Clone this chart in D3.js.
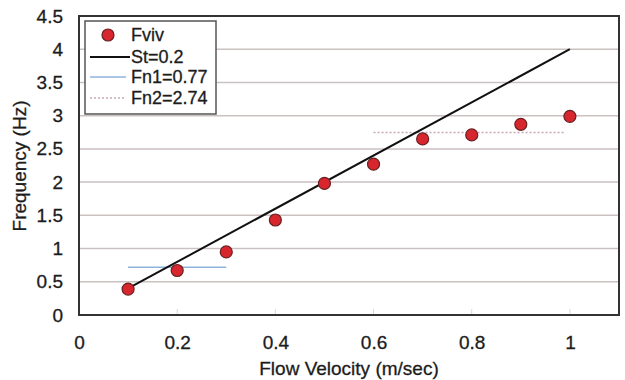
<!DOCTYPE html>
<html>
<head>
<meta charset="utf-8">
<script src="https://cdn.jsdelivr.net/npm/d3@7"></script>
<style>
  body { margin: 0; background: #fff; }
  text { font-family: "Liberation Sans", Arial, sans-serif; fill: #1c1c1c; stroke: #1c1c1c; stroke-width: 0.3px; }
</style>
</head>
<body>
<div id="chart"></div>
<script>
// data
const VELOCITY = [0.1, 0.2, 0.3, 0.4, 0.5, 0.6, 0.7, 0.8, 0.9, 1.0];
const FVIV = [0.39, 0.67, 0.95, 1.43, 1.98, 2.27, 2.65, 2.71, 2.87, 2.99];
const ST_LINE = [[0.1, 0.4], [1.0, 4.0]];
const FN1_LINE = [[0.1, 0.72], [0.3, 0.72]];
const FN2_LINE = [[0.6, 2.745], [0.99, 2.745]];
const X_TICKS = [0, 0.2, 0.4, 0.6, 0.8, 1];
const Y_TICKS = [0, 0.5, 1, 1.5, 2, 2.5, 3, 3.5, 4, 4.5];
const LEGEND = ["Fviv", "St=0.2", "Fn1=0.77", "Fn2=2.74"];

const W = 625, H = 380;
const PLOT_L = 79, PLOT_R = 619, PLOT_T = 16, PLOT_B = 315;
const FONT = "Liberation Sans, Arial, sans-serif";

const svg = d3.select("#chart").append("svg")
  .attr("width", W).attr("height", H);

const x = d3.scaleLinear().domain([0, 1.1]).range([PLOT_L, PLOT_R]);
const y = d3.scaleLinear().domain([0, 4.5]).range([PLOT_B, PLOT_T]);

// gridlines
svg.append("g")
  .selectAll("line")
  .data(Y_TICKS.slice(1))
  .join("line")
  .attr("x1", PLOT_L).attr("x2", PLOT_R)
  .attr("y1", d => y(d)).attr("y2", d => y(d))
  .attr("stroke", "#cbc1c1")
  .attr("stroke-width", 1.5);

// faint x ticks inside
svg.append("g")
  .selectAll("line")
  .data(X_TICKS.slice(1))
  .join("line")
  .attr("x1", d => x(d)).attr("x2", d => x(d))
  .attr("y1", PLOT_B).attr("y2", PLOT_B - 6)
  .attr("stroke", "#d8d8d8");

// y axis labels
const yAxis = svg.append("g")
  .attr("transform", `translate(${PLOT_L},0)`)
  .call(d3.axisLeft(y).tickValues(Y_TICKS).tickSize(0).tickPadding(16).tickFormat(d3.format("")));
yAxis.select(".domain").remove();
yAxis.selectAll("text").attr("font-size", 19).style("font-family", FONT).attr("fill", "#1c1c1c");

// x axis labels
const xAxis = svg.append("g")
  .attr("transform", `translate(0,${PLOT_B})`)
  .call(d3.axisBottom(x).tickValues(X_TICKS).tickSize(0).tickPadding(21).tickFormat(d3.format("")));
xAxis.select(".domain").remove();
xAxis.selectAll("text").attr("font-size", 19).style("font-family", FONT).attr("fill", "#1c1c1c");

// frame
svg.append("rect")
  .attr("x", PLOT_L).attr("y", PLOT_T)
  .attr("width", PLOT_R - PLOT_L).attr("height", PLOT_B - PLOT_T)
  .attr("fill", "none")
  .attr("stroke", "#333")
  .attr("stroke-width", 2);

const line = d3.line().x(d => x(d[0])).y(d => y(d[1]));

svg.append("path").datum(FN1_LINE).attr("d", line)
  .attr("fill", "none").attr("stroke", "#8fb4dc").attr("stroke-width", 1.5);
svg.append("path").datum(FN2_LINE).attr("d", line)
  .attr("fill", "none").attr("stroke", "#c8a8b8").attr("stroke-width", 1.5)
  .attr("stroke-dasharray", "2,2");
svg.append("path").datum(ST_LINE).attr("d", line)
  .attr("fill", "none").attr("stroke", "#111").attr("stroke-width", 2);

// points
svg.append("g")
  .selectAll("circle")
  .data(VELOCITY.map((v, i) => [v, FVIV[i]]))
  .join("circle")
  .attr("cx", d => x(d[0])).attr("cy", d => y(d[1]))
  .attr("r", 6)
  .attr("fill", "#d8262e")
  .attr("stroke", "#6a2020")
  .attr("stroke-width", 1.2);

// legend
const lg = svg.append("g");
lg.append("rect")
  .attr("x", 85).attr("y", 21).attr("width", 131).attr("height", 93)
  .attr("fill", "#fff").attr("stroke", "#555").attr("stroke-width", 1.5);
const rowY = [35, 57, 77, 98];
lg.append("circle").attr("cx", 108).attr("cy", rowY[0]).attr("r", 6)
  .attr("fill", "#d8262e").attr("stroke", "#6a2020").attr("stroke-width", 1.2);
lg.append("line").attr("x1", 90).attr("x2", 130).attr("y1", rowY[1]).attr("y2", rowY[1])
  .attr("stroke", "#111").attr("stroke-width", 2);
lg.append("line").attr("x1", 90).attr("x2", 126).attr("y1", rowY[2]).attr("y2", rowY[2])
  .attr("stroke", "#8fb4dc").attr("stroke-width", 1.5);
lg.append("line").attr("x1", 90).attr("x2", 126).attr("y1", rowY[3]).attr("y2", rowY[3])
  .attr("stroke", "#c8a8b8").attr("stroke-width", 1.5).attr("stroke-dasharray", "2,2");
lg.selectAll("text.lab")
  .data(LEGEND)
  .join("text")
  .attr("class", "lab")
  .attr("x", 131)
  .attr("y", (d, i) => rowY[i])
  .attr("dy", "0.35em")
  .attr("font-size", 18)
  .text(d => d);

// axis titles
svg.append("text")
  .attr("x", 349).attr("y", 375)
  .attr("text-anchor", "middle")
  .attr("font-size", 19)
  .text("Flow Velocity (m/sec)");
svg.append("text")
  .attr("transform", `translate(26, 166) rotate(-90)`)
  .attr("text-anchor", "middle")
  .attr("font-size", 19)
  .text("Frequency (Hz)");
</script>
</body>
</html>
